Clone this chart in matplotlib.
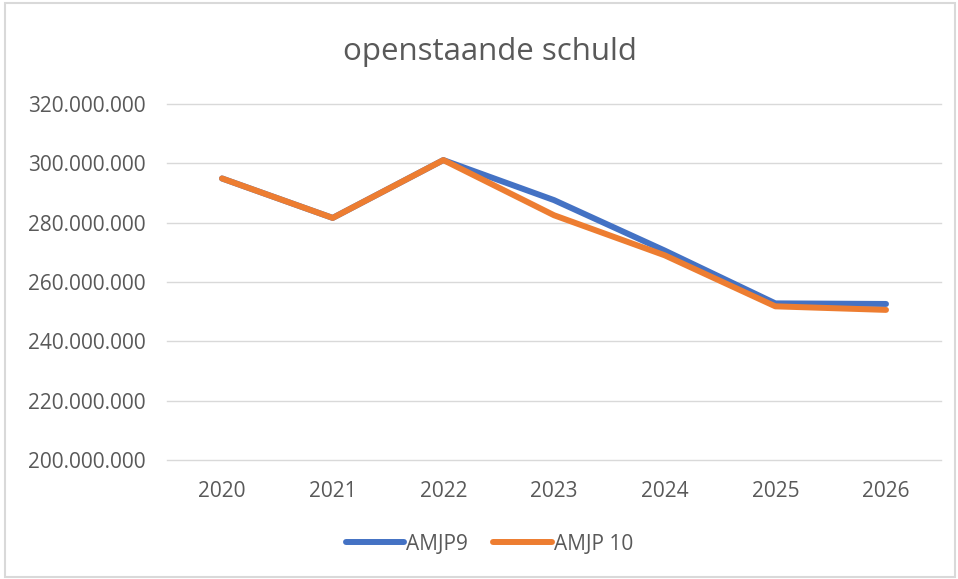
import matplotlib
matplotlib.use("Agg")
import matplotlib.pyplot as plt
from matplotlib.patches import Rectangle
from matplotlib.ticker import FuncFormatter

years = ["2020", "2021", "2022", "2023", "2024", "2025", "2026"]
amjp9 = [294.9e6, 281.6e6, 301.1e6, 287.6e6, 270.6e6, 252.8e6, 252.6e6]
amjp10 = [294.9e6, 281.6e6, 301.1e6, 282.5e6, 269.0e6, 251.8e6, 250.6e6]
series_names = ["AMJP9", "AMJP 10"]
title = "openstaande schuld"

plt.rcParams['font.family'] = ['Open Sans', 'DejaVu Sans']

fig = plt.figure(figsize=(9.58, 5.79), dpi=100)
ax = fig.add_axes([0.174, 0.2055, 0.8086, 0.6149])

x = list(range(len(years)))
ax.plot(x, amjp9, color="#4472C4", lw=4.3, solid_capstyle="round", solid_joinstyle="round", label=series_names[0], zorder=3)
ax.plot(x, amjp10, color="#ED7D31", lw=4.3, solid_capstyle="round", solid_joinstyle="round", label=series_names[1], zorder=4)

ax.set_xlim(-0.5, len(years) - 0.5)
ax.set_ylim(200e6, 320e6)
ax.set_yticks([200e6 + 20e6 * i for i in range(7)])
ax.yaxis.set_major_formatter(FuncFormatter(lambda v, p: f"{int(round(v)):,}".replace(",", ".")))
ax.set_xticks(x)
ax.set_xticklabels(years)
ax.grid(axis="y", color="#D9D9D9", lw=1.0)
for gl in ax.get_ygridlines():
    gl.set_clip_on(False)
ax.set_axisbelow(True)
for s in ax.spines.values():
    s.set_visible(False)
ax.tick_params(axis="both", length=0, colors="#595959", labelsize=15)
ax.tick_params(axis="y", pad=15)
ax.tick_params(axis="x", pad=15)

fig.text(0.511, 0.911, title, ha="center", va="center", fontsize=22.5, color="#595959")

leg = fig.legend(loc="center", bbox_to_anchor=(0.511, 0.06), ncol=2, frameon=False,
                 fontsize=15, handlelength=2.8, columnspacing=1.2, handletextpad=0.1)
for t in leg.get_texts():
    t.set_color("#595959")

fig.patches.append(Rectangle((0.005, 0.004), 0.992, 0.99, transform=fig.transFigure,
                             fill=False, edgecolor="#D9D9D9", lw=1.5))

fig.savefig("out.png", dpi=100, facecolor="white")
